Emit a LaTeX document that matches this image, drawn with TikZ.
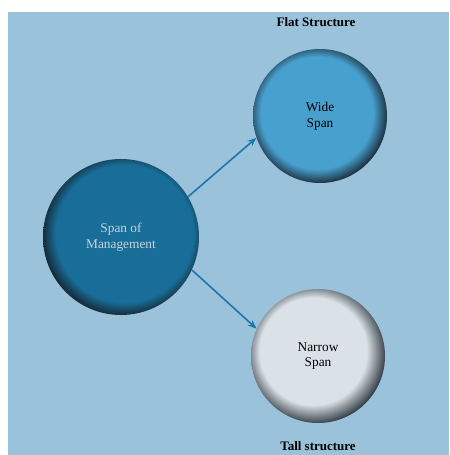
\documentclass[tikz,border=0pt]{standalone}
\usepackage{fontspec}
\setmainfont{Liberation Serif}
\usetikzlibrary{arrows.meta,positioning}

\definecolor{pagebg}{RGB}{154,194,218}
\definecolor{mgmtfill}{RGB}{24,110,152}
\definecolor{widefill}{RGB}{72,160,206}
\definecolor{narrowfill}{RGB}{218,226,231}
\definecolor{rimdark}{RGB}{22,30,40}
\definecolor{arrowblue}{RGB}{28,118,170}
\definecolor{mgmttext}{RGB}{200,212,218}

\pgfdeclareradialshading{mgmtball}{\pgfpoint{2bp}{2bp}}{color(0bp)=(mgmtfill); color(22bp)=(mgmtfill); color(27bp)=(rimdark); color(50bp)=(rimdark)}
\pgfdeclareradialshading{wideball}{\pgfpoint{-2bp}{2bp}}{color(0bp)=(widefill); color(21bp)=(widefill); color(27bp)=(rimdark); color(50bp)=(rimdark)}
\pgfdeclareradialshading{narrowball}{\pgfpoint{-3bp}{3bp}}{color(0bp)=(narrowfill); color(20bp)=(narrowfill); color(28bp)=(rimdark); color(50bp)=(rimdark)}

\begin{document}
\begin{tikzpicture}[x=0.02cm, y=-0.02cm,
   ball/.style={circle, inner sep=0pt, align=center, font=\fontsize{7.6}{9}\selectfont},
   caption/.style={font=\fontsize{7.4}{9}\selectfont\bfseries},
   link/.style={draw=arrowblue, line width=0.9pt, -{Stealth[length=5pt,width=4pt]}}]
   \useasboundingbox (0,0) rectangle (449,455);
   \fill[white] (0,0) rectangle (449,455);
   \fill[pagebg] (8,12) rectangle (449,455);
   % circles
   \node (mgmt) at (121,237) [ball, minimum size=156*0.02cm, shading=mgmtball, text=mgmttext] {Span of\\Management};
   \node (wide) at (320,116) [ball, minimum size=134*0.02cm, shading=wideball] {Wide\\Span};
   \node (narrow) at (318,356) [ball, minimum size=134*0.02cm, shading=narrowball] {Narrow\\Span};
   % captions
   \node (flat) at (316,22) [caption] {Flat Structure};
   \node (tall) at (318,446) [caption] {Tall structure};
   % arrows
   \draw[link] (mgmt.31) -- (wide.199);
   \draw[link] (mgmt.-25) -- (narrow.156);
\end{tikzpicture}
\end{document}
